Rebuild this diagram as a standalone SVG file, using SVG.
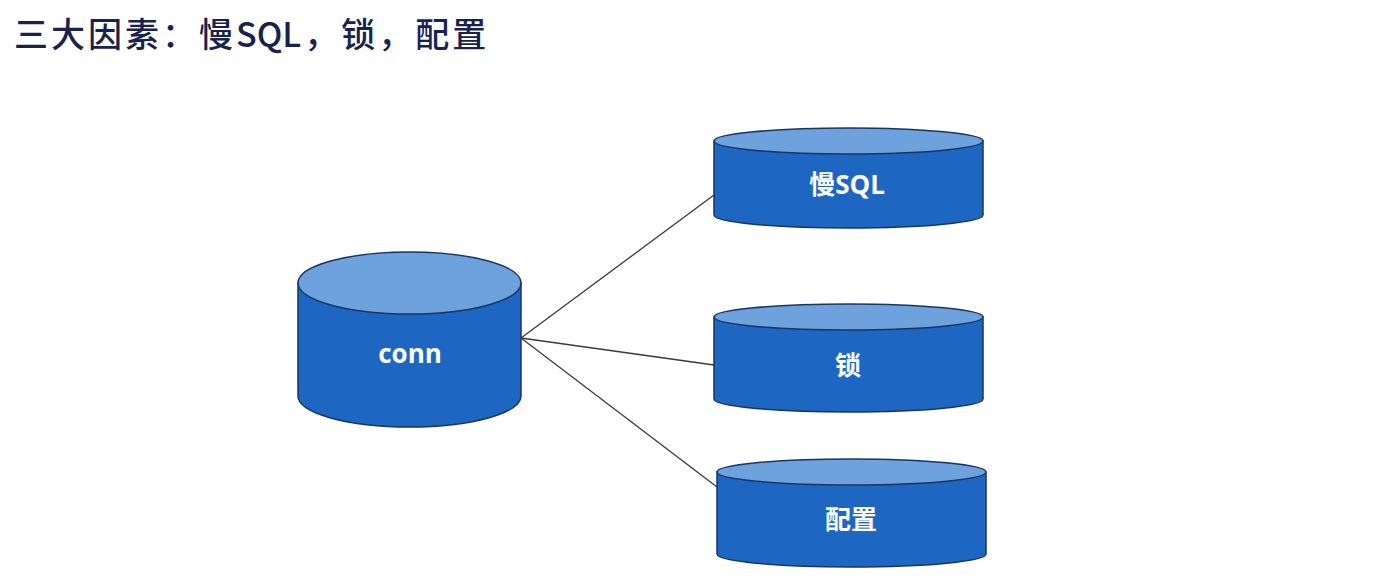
<svg xmlns="http://www.w3.org/2000/svg" width="1400" height="585" viewBox="0 0 1400 585">
<style>
.body{fill:#1d66c2;stroke:#1b3563;stroke-width:1.5}
.top{fill:#6ea2dc;stroke:#1b3563;stroke-width:1.5}
.lbl{fill:#ffffff;font-family:"Open Sans","Noto Sans CJK SC",sans-serif;font-weight:bold;font-size:26px;text-anchor:middle}
.title{fill:#17224f;font-family:"Noto Sans CJK SC","Noto Sans",sans-serif;font-weight:500;font-size:34px;letter-spacing:3px}
.tight{letter-spacing:0px}
.conn{stroke:#3a3a3a;stroke-width:1.3;fill:none}
</style>
<rect width="1400" height="585" fill="#ffffff"/>
<text class="title" x="14" y="47">三大因素：慢<tspan class="tight">SQ</tspan>L，锁，配置</text>
<g id="connectors">
<line class="conn" x1="521" y1="338" x2="714" y2="195"/>
<line class="conn" x1="521" y1="338" x2="714" y2="365"/>
<line class="conn" x1="521" y1="338" x2="717" y2="487"/>
</g>
<g id="conn">
<path class="body" d="M298,283 L298,396 A111.5,31 0 0 0 521,396 L521,283 Z"/>
<ellipse class="top" cx="409.5" cy="283" rx="111.5" ry="31"/>
<text class="lbl" x="410" y="363">conn</text>
</g>
<g id="slowsql">
<path class="body" d="M714,141 L714,215 A134.5,13 0 0 0 983,215 L983,141 Z"/>
<ellipse class="top" cx="848.5" cy="141" rx="134.5" ry="13"/>
<text class="lbl" x="847" y="194">慢SQL</text>
</g>
<g id="lock">
<path class="body" d="M714,317 L714,399 A134.5,13 0 0 0 983,399 L983,317 Z"/>
<ellipse class="top" cx="848.5" cy="317" rx="134.5" ry="13"/>
<text class="lbl" x="848" y="375">锁</text>
</g>
<g id="config">
<path class="body" d="M717,472 L717,554 A134.5,13 0 0 0 986,554 L986,472 Z"/>
<ellipse class="top" cx="851.5" cy="472" rx="134.5" ry="13"/>
<text class="lbl" x="851" y="529">配置</text>
</g>
</svg>
